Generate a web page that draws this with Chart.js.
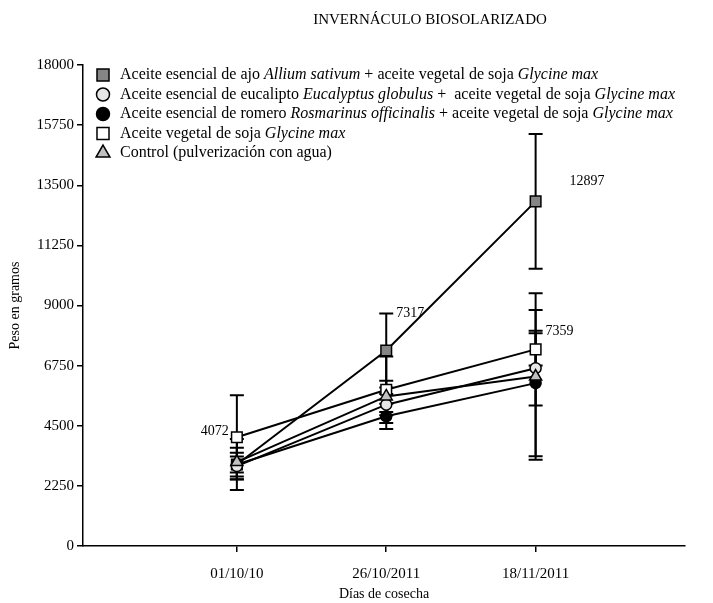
<!DOCTYPE html>
<html><head><meta charset="utf-8">
<script src="https://cdn.jsdelivr.net/npm/chart.js@4.4.0/dist/chart.umd.min.js"></script>
<style>html,body{margin:0;padding:0;background:#fff}#wrap{width:713px;height:603px}</style>
</head><body><div id="wrap"><canvas id="c" width="713" height="603"></canvas></div>
<script>
const chartTitle = 'INVERNÁCULO BIOSOLARIZADO';
const categories = ['01/10/10', '26/10/2011', '18/11/2011'];
const yTicks = [0, 2250, 4500, 6750, 9000, 11250, 13500, 15750, 18000];

const ajo = [3050, 7317, 12897];
const ajoErr = [950, 1386, 2520];
const eucalipto = [2990, 5289, 6655];
const eucaliptoErr = [500, 400, 1400];
const romero = [3050, 4853, 6096];
const romeroErr = [300, 470, 2740];
const soja = [4072, 5847, 7359];
const sojaErr = [1570, 1240, 600];
const control = [3140, 5598, 6343];
const controlErr = [536, 584, 3120];

const legendAjo = [['Aceite esencial de ajo ', 0], ['Allium sativum', 1], [' + aceite vegetal de soja ', 0], ['Glycine max', 1]];
const legendEuc = [['Aceite esencial de eucalipto ', 0], ['Eucalyptus globulus', 1], [' +  aceite vegetal de soja ', 0], ['Glycine max', 1]];
const legendRom = [['Aceite esencial de romero ', 0], ['Rosmarinus officinalis', 1], [' + aceite vegetal de soja ', 0], ['Glycine max', 1]];
const legendSoja = [['Aceite vegetal de soja ', 0], ['Glycine max', 1]];
const legendCtrl = [['Control (pulverización con agua)', 0]];

const FONT = '"Liberation Serif", "Times New Roman", serif';

function pts(arr) { return arr.map((v, i) => ({ x: i, y: v })); }

function ds(label, data, err, style, radius, fill, order, legend) {
  return {
    label: label, data: pts(data), err: err, legendSegs: legend,
    borderColor: '#000', borderWidth: 2, backgroundColor: fill,
    pointStyle: style, pointRadius: radius, pointHoverRadius: radius,
    pointBackgroundColor: fill, pointBorderColor: '#000', pointBorderWidth: 1.5,
    fill: false, tension: 0, order: order
  };
}

const datasets = [
  ds('ajo', ajo, ajoErr, 'rect', 7.5, '#858585', 4, legendAjo),
  ds('eucalipto', eucalipto, eucaliptoErr, 'circle', 5.5, '#e6e6e6', 2, legendEuc),
  ds('romero', romero, romeroErr, 'circle', 5.5, '#000000', 3, legendRom),
  ds('soja', soja, sojaErr, 'rect', 7.5, '#ffffff', 1, legendSoja),
  ds('control', control, controlErr, 'triangle', 7, '#c0c0c0', 0, legendCtrl)
];

const errorBars = {
  id: 'errorBars',
  beforeDatasetsDraw(chart) {
    const ctx = chart.ctx, xs = chart.scales.x, ys = chart.scales.y;
    ctx.save();
    ctx.strokeStyle = '#000'; ctx.lineWidth = 2;
    chart.data.datasets.forEach(d => {
      d.data.forEach((p, i) => {
        const e = d.err[i];
        const px = xs.getPixelForValue(p.x);
        const t = ys.getPixelForValue(p.y + e), b = ys.getPixelForValue(p.y - e);
        ctx.beginPath();
        ctx.moveTo(px, t); ctx.lineTo(px, b);
        ctx.moveTo(px - 7, t); ctx.lineTo(px + 7, t);
        ctx.moveTo(px - 7, b); ctx.lineTo(px + 7, b);
        ctx.stroke();
      });
    });
    ctx.restore();
  }
};

const extras = {
  id: 'extras',
  afterDraw(chart) {
    const ctx = chart.ctx, xs = chart.scales.x, ys = chart.scales.y;
    ctx.save();
    ctx.fillStyle = '#000';
    // title
    ctx.font = '15px ' + FONT;
    ctx.textAlign = 'center'; ctx.textBaseline = 'middle';
    ctx.fillText(chartTitle, 430, 20);
    // value labels
    ctx.font = '14px ' + FONT;
    ctx.textBaseline = 'middle';
    ctx.textAlign = 'right';
    ctx.fillText(String(soja[0]), xs.getPixelForValue(0) - 8, ys.getPixelForValue(soja[0]) - 6);
    ctx.textAlign = 'left';
    ctx.fillText(String(ajo[1]), xs.getPixelForValue(1) + 10, ys.getPixelForValue(ajo[1] + ajoErr[1]));
    ctx.fillText(String(ajo[2]), xs.getPixelForValue(2) + 34, ys.getPixelForValue(ajo[2]) - 20);
    ctx.fillText(String(soja[2]), xs.getPixelForValue(2) + 10, ys.getPixelForValue(soja[2]) - 18);
    // legend
    const rowY0 = 75, rowH = 19.5, mx = 103, tx = 120;
    chart.data.datasets.forEach((d, k) => {
      const y = rowY0 + k * rowH;
      ctx.fillStyle = d.pointBackgroundColor; ctx.strokeStyle = '#000'; ctx.lineWidth = 1.5;
      const r = d.pointStyle === 'rect' ? 8.5 : (d.pointStyle === 'triangle' ? 8 : 6.5);
      Chart.helpers.drawPoint(ctx, { pointStyle: d.pointStyle, radius: r, rotation: 0, borderWidth: 1.5 }, mx, y);
      ctx.fillStyle = '#000';
      ctx.textAlign = 'left'; ctx.textBaseline = 'middle';
      let x = tx;
      d.legendSegs.forEach(s => {
        ctx.font = (s[1] ? 'italic ' : '') + '16px ' + FONT;
        ctx.fillText(s[0], x, y);
        x += ctx.measureText(s[0]).width;
      });
    });
    ctx.restore();
  }
};

new Chart(document.getElementById('c'), {
  type: 'line',
  data: { datasets: datasets },
  options: {
    responsive: false, animation: false, devicePixelRatio: 1,
    layout: { padding: { left: 0, top: 65, right: 28, bottom: 0 } },
    plugins: { legend: { display: false }, tooltip: { enabled: false }, title: { display: false } },
    scales: {
      x: {
        type: 'linear', min: -1.03, max: 3.0,
        afterBuildTicks: s => { s.ticks = [0, 1, 2].map(v => ({ value: v })); },
        afterFit: s => { s.height = 57; },
        ticks: { callback: v => categories[v], color: '#000', font: { family: FONT, size: 15 }, padding: 13, maxRotation: 0 },
        grid: { drawOnChartArea: false, drawTicks: true, tickLength: 6, color: '#000', lineWidth: 1.5 },
        border: { color: '#000', width: 1.5 },
        title: { display: true, text: 'Días de cosecha', color: '#000', font: { family: FONT, size: 14 }, padding: { top: 2, bottom: 0 } }
      },
      y: {
        min: 0, max: 18000,
        afterBuildTicks: s => { s.ticks = yTicks.map(v => ({ value: v })); },
        afterFit: s => { s.width = 83; },
        ticks: { callback: v => String(v), color: '#000', font: { family: FONT, size: 15 }, padding: 3 },
        grid: { drawOnChartArea: false, drawTicks: true, tickLength: 6, color: '#000', lineWidth: 1.5 },
        border: { color: '#000', width: 1.5 },
        title: { display: true, text: 'Peso en gramos', color: '#000', font: { family: FONT, size: 14 }, padding: { top: 7, bottom: 0 } }
      }
    }
  },
  plugins: [errorBars, extras]
});
</script>
</body></html>
